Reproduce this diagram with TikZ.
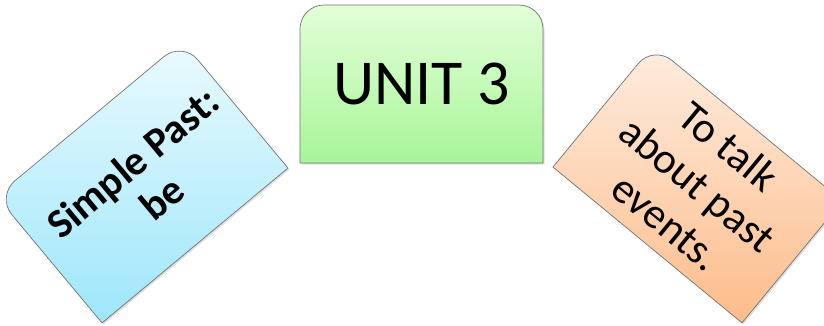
\documentclass[tikz,border=0pt]{standalone}
\usepackage{fontspec}
\setmainfont{Carlito}
\usetikzlibrary{calc,shadows,backgrounds}
\definecolor{gtop}{RGB}{226,255,216}
\definecolor{gbot}{RGB}{168,245,152}
\definecolor{btop}{RGB}{232,250,254}
\definecolor{bbot}{RGB}{158,230,251}
\definecolor{otop}{RGB}{254,236,222}
\definecolor{obot}{RGB}{253,188,138}
\begin{document}
\begin{tikzpicture}[x=1pt,y=1pt,
  boxtext/.style={inner sep=0pt,outer sep=0pt,align=center,text=black},
  boxshape/.style={draw=black!55,line width=0.7pt,
    drop shadow={shadow xshift=1.5pt,shadow yshift=-1.5pt,opacity=0.25}}]
\useasboundingbox (0,0) rectangle (824,325);
\node[boxtext,minimum width=243pt,minimum height=158pt,
  font=\fontsize{64}{70}\selectfont] (unit) at (421.5,241) {UNIT 3};
\node[boxtext,minimum width=242pt,minimum height=165pt,rotate=39.8] (past) at (142.2,142.9) {};
\node[boxtext,rotate=39.8,font=\fontsize{41.5}{46}\selectfont\bfseries]
  (pasttext) at ($(past.center)+(5,2)$) {Simple Past:\\be};
\node[boxtext,minimum width=245pt,minimum height=158pt,rotate=-39.5,
  font=\fontsize{43}{49}\selectfont] (talk) at (697.7,141) {To talk\\about past\\events.};
\begin{scope}[on background layer]
\path[boxshape,top color=gtop,bottom color=gbot]
  (unit.south west) -- ([yshift=-24pt]unit.north west)
  arc[start angle=180,end angle=90,radius=24pt]
  -- ([xshift=-24pt]unit.north east)
  arc[start angle=90,end angle=0,radius=24pt]
  -- (unit.south east) -- cycle;
\path[boxshape,top color=btop,bottom color=bbot]
  (past.south west) -- ($(past.north west)!24pt!(past.south west)$)
  arc[start angle=219.8,end angle=129.8,radius=24pt]
  -- ($(past.north east)!24pt!(past.north west)$)
  arc[start angle=129.8,end angle=39.8,radius=24pt]
  -- (past.south east) -- cycle;
\path[boxshape,top color=otop,bottom color=obot]
  (talk.south west) -- ($(talk.north west)!24pt!(talk.south west)$)
  arc[start angle=140.5,end angle=50.5,radius=24pt]
  -- ($(talk.north east)!24pt!(talk.north west)$)
  arc[start angle=50.5,end angle=-39.5,radius=24pt]
  -- (talk.south east) -- cycle;
\end{scope}
\end{tikzpicture}
\end{document}
